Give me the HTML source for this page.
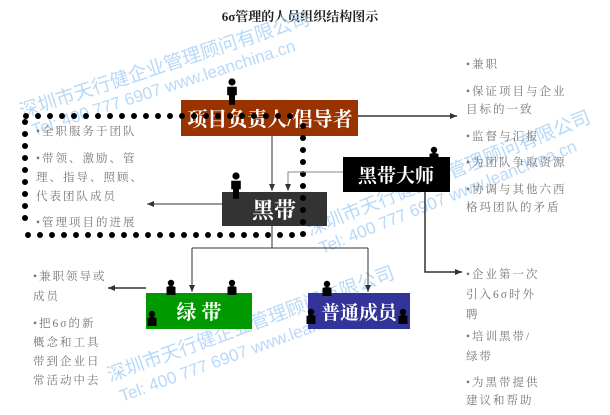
<!DOCTYPE html>
<html><head><meta charset="utf-8"><style>
html,body{margin:0;padding:0;background:#fff;width:610px;height:415px;overflow:hidden}
svg{display:block}
.t{font-family:"Liberation Serif","Noto Serif CJK SC",serif;fill:#777;font-size:11.5px;letter-spacing:2px}
.b{font-family:"Liberation Serif","Noto Serif CJK SC",serif;fill:#fff;font-weight:bold}
.w{font-family:"Liberation Sans","Noto Sans CJK SC",sans-serif;fill:#a6d0f5;opacity:.8}
</style></head><body>
<svg width="610" height="415" viewBox="0 0 610 415" xmlns="http://www.w3.org/2000/svg">
<defs>
<marker id="a" markerWidth="8" markerHeight="8" refX="7" refY="4" orient="auto" markerUnits="userSpaceOnUse"><path d="M0,1 L7,4 L0,7 Z" fill="#333"/></marker>
<g id="p"><circle cx="0" cy="-15" r="3" fill="#000"/><path d="M-4,-11 h8 v7 h-1.5 v8 h-5 v-8 h-1.5z" fill="#000"/></g>
<g id="q"><circle cx="0" cy="-10" r="3.2" fill="#000"/><path d="M-4.5,-6 q4.5,-2 9,0 v8 h-9z" fill="#000"/></g>
</defs>
<text x="300" y="21" text-anchor="middle" font-family="Liberation Serif,'Noto Serif CJK SC',serif" font-weight="bold" font-size="13" fill="#222">6σ管理的人员组织结构图示</text>

<!-- watermarks -->
<g class="w">
<text transform="translate(22,118) rotate(-18)" font-size="19">深圳市天行健企业管理顾问有限公司</text>
<text transform="translate(34,136) rotate(-18)" font-size="17">Tel: 400 777 6907 www.leanchina.cn</text>
<text transform="translate(310,236) rotate(-22)" font-size="19">深圳市天行健企业管理顾问有限公司</text>
<text transform="translate(322,254) rotate(-22)" font-size="17">Tel: 400 777 6907 www.leanchina.cn</text>
<text transform="translate(110,382) rotate(-20)" font-size="19">深圳市天行健企业管理顾问有限公司</text>
<text transform="translate(122,402) rotate(-20)" font-size="17">Tel: 400 777 6907 www.leanchina.cn</text>
</g>

<!-- boxes -->
<rect x="181" y="100" width="177" height="36" fill="#993300"/>
<text x="270" y="126" class="b" font-size="20" text-anchor="middle">项目负责人/倡导者</text>
<rect x="222" y="192" width="105" height="34" fill="#333"/>
<text x="274" y="218" class="b" font-size="22" text-anchor="middle">黑带</text>
<rect x="343" y="157" width="107" height="35" fill="#000"/>
<text x="396" y="182" class="b" font-size="19" text-anchor="middle">黑带大师</text>
<rect x="146" y="293" width="106" height="36" fill="#009900"/>
<text x="199" y="319" class="b" font-size="20" text-anchor="middle">绿 带</text>
<rect x="308" y="293" width="102" height="36" fill="#333399"/>
<text x="359" y="319" class="b" font-size="19" text-anchor="middle">普通成员</text>

<!-- people -->
<use href="#p" transform="translate(232,100) scale(1.2) translate(-232,-100)" x="232" y="100"/>
<use href="#p" transform="translate(236,194) scale(1.2) translate(-236,-194)" x="236" y="194"/>
<use href="#q" x="434" y="160"/>
<use href="#q" x="171" y="293"/>
<use href="#q" x="232" y="293"/>
<use href="#q" x="152" y="324"/>
<use href="#q" x="327" y="294"/>
<use href="#q" x="311" y="322"/>
<use href="#q" x="403" y="322"/>

<!-- dotted rectangle -->
<g fill="#000">
<circle cx="26" cy="116" r="3"/><circle cx="38" cy="116" r="3"/><circle cx="50" cy="116" r="3"/><circle cx="62" cy="116" r="3"/><circle cx="74" cy="116" r="3"/><circle cx="86" cy="116" r="3"/><circle cx="98" cy="116" r="3"/><circle cx="110" cy="116" r="3"/><circle cx="122" cy="116" r="3"/><circle cx="134" cy="116" r="3"/><circle cx="146" cy="116" r="3"/><circle cx="158" cy="116" r="3"/><circle cx="170" cy="116" r="3"/><circle cx="182" cy="116" r="3"/><circle cx="194" cy="116" r="3"/><circle cx="206" cy="116" r="3"/><circle cx="218" cy="116" r="3"/><circle cx="230" cy="116" r="3"/><circle cx="242" cy="116" r="3"/><circle cx="254" cy="116" r="3"/><circle cx="266" cy="116" r="3"/><circle cx="278" cy="116" r="3"/><circle cx="290" cy="116" r="3"/>
<circle cx="25" cy="122" r="3"/><circle cx="25" cy="134" r="3"/><circle cx="25" cy="146" r="3"/><circle cx="25" cy="158" r="3"/><circle cx="25" cy="170" r="3"/><circle cx="25" cy="182" r="3"/><circle cx="25" cy="194" r="3"/><circle cx="25" cy="206" r="3"/><circle cx="25" cy="218" r="3"/>
<circle cx="28" cy="235" r="3"/><circle cx="40" cy="235" r="3"/><circle cx="52" cy="235" r="3"/><circle cx="64" cy="235" r="3"/><circle cx="76" cy="235" r="3"/><circle cx="88" cy="235" r="3"/><circle cx="100" cy="235" r="3"/><circle cx="112" cy="235" r="3"/><circle cx="124" cy="235" r="3"/><circle cx="136" cy="235" r="3"/><circle cx="148" cy="235" r="3"/><circle cx="160" cy="235" r="3"/><circle cx="172" cy="235" r="3"/><circle cx="184" cy="235" r="3"/><circle cx="196" cy="235" r="3"/><circle cx="208" cy="235" r="3"/><circle cx="220" cy="235" r="3"/><circle cx="232" cy="235" r="3"/><circle cx="244" cy="235" r="3"/><circle cx="256" cy="235" r="3"/><circle cx="268" cy="235" r="3"/><circle cx="280" cy="235" r="3"/><circle cx="292" cy="235" r="3"/>
<circle cx="303" cy="126" r="3"/><circle cx="303" cy="138" r="3"/><circle cx="303" cy="150" r="3"/><circle cx="303" cy="162" r="3"/><circle cx="303" cy="174" r="3"/><circle cx="303" cy="186" r="3"/><circle cx="303" cy="198" r="3"/><circle cx="303" cy="210" r="3"/><circle cx="303" cy="222" r="3"/><circle cx="303" cy="234" r="3"/>
</g>

<!-- connectors -->
<g stroke="#333" stroke-width="1" fill="none">
<line x1="272" y1="136" x2="272" y2="191" marker-end="url(#a)"/>
<polyline points="343,172 288,172 288,191" stroke="#888" marker-end="url(#a)"/>
<line x1="358" y1="116" x2="457" y2="116" stroke-width="1.5" marker-end="url(#a)"/>
<polyline points="425,192 425,272 462,272" stroke-width="1.5" marker-end="url(#a)"/>
<line x1="222" y1="204" x2="147" y2="204" marker-end="url(#a)"/>
<line x1="272" y1="226" x2="272" y2="248"/>
<line x1="192" y1="248" x2="368" y2="248"/>
<line x1="192" y1="248" x2="192" y2="292" marker-end="url(#a)"/>
<line x1="368" y1="248" x2="368" y2="292" marker-end="url(#a)"/>
<line x1="146" y1="288" x2="108" y2="288" stroke-width="1.5" marker-end="url(#a)"/>
</g>

<!-- texts -->
<g class="t">
<text x="36" y="135">•全职服务于团队</text>
<text x="36" y="162">•带领、激励、管</text>
<text x="36" y="181">理、指导、照顾、</text>
<text x="36" y="200">代表团队成员</text>
<text x="36" y="226">•管理项目的进展</text>

<text x="466" y="68">•兼职</text>
<text x="466" y="95">•保证项目与企业</text>
<text x="466" y="113">目标的一致</text>
<text x="466" y="140">•监督与汇报</text>
<text x="466" y="166">•为团队争取资源</text>
<text x="466" y="193">•协调与其他六西</text>
<text x="466" y="211">格玛团队的矛盾</text>

<text x="466" y="278">•企业第一次</text>
<text x="466" y="298">引入6σ时外</text>
<text x="466" y="318">聘</text>
<text x="466" y="340">•培训黑带/</text>
<text x="466" y="360">绿带</text>
<text x="466" y="386">•为黑带提供</text>
<text x="466" y="404">建议和帮助</text>

<text x="33" y="280">•兼职领导或</text>
<text x="33" y="300">成员</text>
<text x="33" y="327">•把6σ的新</text>
<text x="33" y="346">概念和工具</text>
<text x="33" y="365">带到企业日</text>
<text x="33" y="384">常活动中去</text>
</g>
</svg>
</body></html>
